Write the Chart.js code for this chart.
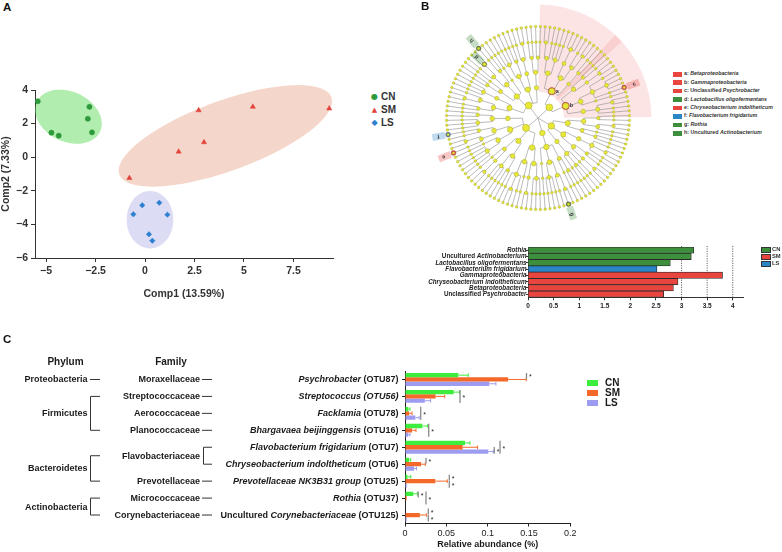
<!DOCTYPE html>
<html><head><meta charset="utf-8">
<script src="https://cdn.jsdelivr.net/npm/chart.js@4.4.1/dist/chart.umd.min.js"></script>
<style>
html,body{margin:0;padding:0;background:#fff}
body{position:relative;width:782px;height:552px;overflow:hidden;font-family:"Liberation Sans",Arial,Helvetica,sans-serif}
canvas{position:absolute}
.lbl{position:absolute;font-weight:bold;color:#1a1a1a;white-space:nowrap;line-height:1}
.sw{position:absolute}
</style></head><body>
<canvas id="pca" width="345" height="240" style="left:0px;top:60px"></canvas>
<canvas id="clado" width="240" height="240" style="left:418px;top:-2px"></canvas>
<canvas id="lda" width="360" height="85" style="left:395px;top:235px"></canvas>
<canvas id="abund" width="782" height="202" style="left:0px;top:350px"></canvas>
<script>
// ================= DATA =================
// Panel A : PCA scores
const pcaGroups = ['CN', 'SM', 'LS'];
const pcaCN = [[-5.42, 3.33], [-4.73, 1.46], [-4.36, 1.28], [-2.81, 3.00], [-2.89, 2.29], [-2.68, 1.48]];
const pcaSM = [[-0.79, -1.24], [1.70, 0.33], [2.71, 2.79], [2.98, 0.89], [5.45, 3.00], [9.31, 2.90]];
const pcaLS = [[-0.59, -3.40], [-0.14, -2.86], [0.72, -2.71], [1.13, -3.42], [0.20, -4.59], [0.37, -4.97]];
const pcaXTitle = 'Comp1 (13.59%)';
const pcaYTitle = 'Comp2 (7.33%)';
const pcaXRange = [-5.56, 9.5];
const pcaYRange = [-6, 4];
// confidence ellipses (data units): centre and two half-axis vectors
const ellipseCenter = [[-3.87, 2.41], [4.06, 1.27], [0.25, -3.72]];
const ellipseAxisU = [[1.60, -0.88], [5.36, 2.30], [1.18, 0]];
const ellipseAxisV = [[-0.53, -1.35], [0.61, -1.96], [0, 1.71]];

// Panel B : cladogram (phylum > class > order > family > genus = number of species)
const cladeTree = [
  [ [ [[2, 1], [1, 1, 1]], [[3], [1, 2]], [[1, 1]] ],
    [ [[1, 1], [2]], [[1, 3, 1], [1]], [[2, 1, 1]] ] ],
  [ [ [[1, 1], [2, 1]], [[1], [1, 1]] ],
    [ [[1, 2, 1]], [[1, 1], [2]] ],
    [ [[1], [1, 1], [1]] ] ],
  [ [ [[1, 1], [1]], [[2, 1], [1, 1, 1]], [[1]] ] ],
  [ [ [[1, 1, 1], [2]], [[1], [1, 2, 1]] ],
    [ [[1, 1], [1, 1, 1]], [[2], [1]] ],
    [ [[1, 1, 1, 1], [1]], [[1, 2], [1, 1]] ],
    [ [[1, 1, 1], [1, 1]] ] ],
  [ [ [[1, 1], [2, 1]], [[1, 1, 1]] ],
    [ [[1, 1], [1]], [[1, 2], [1, 1]], [[1]] ],
    [ [[1, 1, 1], [1, 1]], [[1, 2]] ],
    [ [[1, 1], [1, 1]] ] ]
];
const cladeMarks = ['a', 'b', 'c', 'd', 'e', 'f', 'g', 'h'];
const cladeMarkNames = ['Betaproteobacteria', 'Gammaproteobacteria', 'Unclassified Psychrobacter',
  'Lactobacillus oligofermentans', 'Chryseobacterium indoltheticum', 'Flavobacterium frigidarium',
  'Rothia', 'Uncultured Actinobacterium'];
const cladeMarkGroup = ['SM', 'SM', 'SM', 'CN', 'SM', 'LS', 'CN', 'CN'];
const cladeMarkLeaf = [0, 14, 22, 104, 81, 85, 52, 105];   // a leaf inside the clade
const cladeMarkLevel = [2, 2, 6, 5, 6, 6, 6, 6];           // tree level of the clade node

// Panel B : LDA scores
const ldaTaxa = ['Rothia', 'Uncultured Actinobacterium', 'Lactobacillus oligofermentans',
  'Flavobacterium frigidarium', 'Gammaproteobacteria', 'Chryseobacterium indoltheticum',
  'Betaproteobacteria', 'Unclassified Psychrobacter'];
const ldaGroup = ['CN', 'CN', 'CN', 'LS', 'SM', 'SM', 'SM', 'SM'];
const ldaScore = [3.24, 3.19, 2.78, 2.52, 3.80, 2.93, 2.84, 2.65];
const ldaRefLines = [3, 3.5, 4];
const ldaGroups = ['CN', 'SM', 'LS'];

// Panel C : relative abundance
const phylumNames = ['Proteobacteria', 'Firmicutes', 'Bacteroidetes', 'Actinobacteria'];
const phylumFamilyCount = [1, 3, 2, 2];
const familyNames = ['Moraxellaceae', 'Streptococcaceae', 'Aerococcaceae', 'Planococcaceae',
  'Flavobacteriaceae', 'Prevotellaceae', 'Micrococcaceae', 'Corynebacteriaceae'];
const familyOtuCount = [1, 1, 1, 1, 2, 1, 1, 1];
const otuLabels = ['Psychrobacter (OTU87)', 'Streptococcus (OTU56)', 'Facklamia (OTU78)',
  'Bhargavaea beijinggensis (OTU16)', 'Flavobacterium frigidarium (OTU7)',
  'Chryseobacterium indoltheticum (OTU6)', 'Prevotellaceae NK3B31 group (OTU25)',
  'Rothia (OTU37)', 'Uncultured Corynebacteriaceae (OTU125)'];
const abundGroups = ['CN', 'SM', 'LS'];
const cnAbund = [0.0645, 0.059, 0.004, 0.021, 0.0726, 0.005, 0.003, 0.010, 0.0];
const cnErr   = [0.012, 0.007, 0.002, 0.0064, 0.006, 0.002, 0.004, 0.005, 0.0];
const smAbund = [0.1247, 0.037, 0.005, 0.0085, 0.0698, 0.0194, 0.0367, 0.002, 0.018];
const smErr   = [0.022, 0.011, 0.0035, 0.0048, 0.018, 0.0052, 0.0145, 0.0, 0.0082];
const lsAbund = [0.102, 0.024, 0.0125, 0.004, 0.1008, 0.011, 0.002, 0.0, 0.002];
const lsErr   = [0.008, 0.007, 0.0045, 0.002, 0.006, 0.003, 0.0, 0.0, 0.0];
const sigRow  = [0, 1, 2, 3, 4, 4, 5, 6, 6, 7, 7, 8, 8];
const sigAt   = [0.147, 0.0666, 0.019, 0.0287, 0.108, 0.115, 0.0254, 0.0536, 0.0536, 0.016, 0.0254, 0.0282, 0.0282];
const sigFrom = [0, 0, 0, 0, 1, 0, 0, 0, 1, 0, 0, 0, 1];
const sigTo   = [1, 2, 2, 2, 2, 2, 1, 1, 2, 1, 2, 1, 2];
const abundXTitle = 'Relative abundance (%)';

// ================= STYLE =================
Chart.defaults.font.family = '"Liberation Sans", Arial, sans-serif';
Chart.defaults.color = '#222';
const PCA_COL = {CN: '#2e9a3b', SM: '#e2433a', LS: '#2d7fd1'};
const ELLIPSE_FILL = ['rgba(100,220,95,0.5)', 'rgba(225,150,115,0.38)', 'rgba(150,150,225,0.33)'];
const LDA_COL = {CN: '#3d8f3d', SM: '#e8453f', LS: '#2a86c6'};
const AB_COL = {CN: '#3ded3d', SM: '#f4692a', LS: '#9d9cf0'};
const ITALIC_OTU_ROWS = [1];

const body = document.body;
function label(html, x, y, size, align, extra) {
  const d = document.createElement('div');
  d.className = 'lbl';
  d.innerHTML = html;
  d.style.fontSize = size + 'px';
  d.style.top = y + 'px';
  if (align === 'right') { d.style.right = (782 - x) + 'px'; d.style.transform = 'translateY(-50%)'; }
  else if (align === 'center') { d.style.left = x + 'px'; d.style.transform = 'translate(-50%,-50%)'; }
  else { d.style.left = x + 'px'; d.style.transform = 'translateY(-50%)'; }
  if (extra) Object.assign(d.style, extra);
  body.appendChild(d);
  return d;
}
function swatch(x, y, w, h, color, border) {
  const d = document.createElement('div');
  d.className = 'sw';
  Object.assign(d.style, {left: x + 'px', top: (y - h / 2) + 'px', width: w + 'px', height: h + 'px',
    background: color, boxSizing: 'border-box', border: border || 'none'});
  body.appendChild(d);
}
function taxonHTML(name, italicOtu) {
  const m = name.match(/^(.*?)(\s*\(OTU\d+\))?$/);
  let core = m[1]; const otu = m[2] || '';
  let pre = '';
  const pm = core.match(/^(Uncultured |Unclassified )(.*)$/);
  if (pm) { pre = pm[1]; core = pm[2]; }
  return pre + '<i>' + core + '</i>' + (italicOtu ? '<i>' + otu + '</i>' : otu);
}
const plain = v => String(+Number(v).toFixed(4));
const minus = v => plain(v).replace('-', '\u2212');

// ================= PANEL A =================
const ellipsePlugin = {
  id: 'ellipses',
  beforeDatasetsDraw(chart) {
    const {ctx, scales: {x, y}} = chart;
    ellipseCenter.forEach((c, i) => {
      ctx.save();
      ctx.beginPath();
      for (let k = 0; k <= 90; k++) {
        const t = k / 90 * 2 * Math.PI;
        const dx = c[0] + ellipseAxisU[i][0] * Math.cos(t) + ellipseAxisV[i][0] * Math.sin(t);
        const dy = c[1] + ellipseAxisU[i][1] * Math.cos(t) + ellipseAxisV[i][1] * Math.sin(t);
        const px = x.getPixelForValue(dx), py = y.getPixelForValue(dy);
        if (k) ctx.lineTo(px, py); else ctx.moveTo(px, py);
      }
      ctx.closePath();
      ctx.fillStyle = ELLIPSE_FILL[i];
      ctx.fill();
      ctx.restore();
    });
  }
};
const pcaSets = [pcaCN, pcaSM, pcaLS];
const pcaStyles = ['circle', 'triangle', 'rectRot'];
const pcaRadius = [2.6, 3.0, 2.7];
new Chart(document.getElementById('pca'), {
  type: 'scatter',
  data: {datasets: pcaGroups.map((g, i) => ({
    label: g, data: pcaSets[i].map(p => ({x: p[0], y: p[1]})),
    pointStyle: pcaStyles[i], pointRadius: pcaRadius[i],
    backgroundColor: PCA_COL[g], borderColor: PCA_COL[g], borderWidth: 0.5
  }))},
  options: {
    responsive: false, animation: false,
    layout: {padding: {top: 30, right: 12, left: 0, bottom: 0}},
    plugins: {legend: {display: false}, tooltip: {enabled: false}},
    scales: {
      x: {type: 'linear', min: pcaXRange[0], max: pcaXRange[1],
        ticks: {stepSize: 2.5, includeBounds: false, font: {size: 10.5, weight: 'bold'}, color: '#333', padding: 3, callback: v => minus(v)},
        grid: {drawOnChartArea: false, tickLength: 4, color: '#333'},
        border: {color: '#333', width: 1},
        title: {display: true, text: pcaXTitle, font: {size: 10.5, weight: 'bold'}, color: '#333', padding: {top: 4, bottom: 0}},
        afterFit: s => { s.height = 42; }},
      y: {type: 'linear', min: pcaYRange[0], max: pcaYRange[1],
        ticks: {stepSize: 2, includeBounds: false, font: {size: 10.5, weight: 'bold'}, color: '#333', padding: 3, callback: v => minus(v)},
        grid: {drawOnChartArea: false, tickLength: 4, color: '#333'},
        border: {color: '#333', width: 1},
        title: {display: true, text: pcaYTitle, font: {size: 10.5, weight: 'bold'}, color: '#333', padding: {top: 0, bottom: 0}},
        afterFit: s => { s.width = 35; }}
    }
  },
  plugins: [ellipsePlugin]
});

// ================= PANEL B : cladogram =================
const CLADE_START = -87;
const LEVEL_R = [0, 0.17, 0.33, 0.5, 0.66, 0.83, 1.0];
function buildTree(arr, level) {
  const node = {level, children: []};
  arr.forEach(el => {
    if (typeof el === 'number') {
      const g = {level: level + 1, children: []};
      for (let k = 0; k < el; k++) g.children.push({level: level + 2, children: []});
      node.children.push(g);
    } else node.children.push(buildTree(el, level + 1));
  });
  return node;
}
const cladeRoot = buildTree(cladeTree, 0);
const cladeLeaves = [];
(function collect(n) { if (!n.children.length) cladeLeaves.push(n); else n.children.forEach(collect); })(cladeRoot);
const cladeStep = 360 / cladeLeaves.length;
cladeLeaves.forEach((l, i) => { l.idx = i; l.ang = CLADE_START + (i + 0.5) * cladeStep; });
(function finish(n) {
  if (n.children.length) {
    n.children.forEach(finish);
    const f = n.children[0], l = n.children[n.children.length - 1];
    n.ang = (f.ang + l.ang) / 2; n.first = f.first; n.last = l.last;
    n.count = n.children.reduce((s, c) => s + c.count, 0);
  } else { n.first = n.last = n.idx; n.count = 1; }
})(cladeRoot);
const cladeNodes = [];
(function walk(n) { if (n.level > 0) cladeNodes.push(n); n.children.forEach(walk); })(cladeRoot);
function findClade(leaf, level) {
  let n = cladeRoot;
  while (n.level < level) n = n.children.find(c => c.first <= leaf && leaf <= c.last);
  return n;
}
const markNodes = cladeMarks.map((m, i) => findClade(cladeMarkLeaf[i], cladeMarkLevel[i]));
const toXY = n => ({x: LEVEL_R[n.level] * Math.cos(n.ang * Math.PI / 180), y: -LEVEL_R[n.level] * Math.sin(n.ang * Math.PI / 180)});
const nodeSize = n => n.count === 1 ? 1.25 : 1.3 + 0.45 * Math.log2(n.count);
const CLADE_MAX = 1.263;
const cladePlugin = {
  id: 'clade',
  beforeDatasetsDraw(chart) {
    const {ctx, scales: {x, y}} = chart;
    const cx = x.getPixelForValue(0), cy = y.getPixelForValue(0);
    const ppu = x.getPixelForValue(1) - cx;
    const rad = a => a * Math.PI / 180;
    markNodes.forEach((n, i) => {
      if (n.level > 2) return;
      const a0 = rad(CLADE_START + n.first * cladeStep - 2), a1 = rad(CLADE_START + (n.last + 1) * cladeStep + 2.5);
      const r0 = LEVEL_R[n.level] * ppu - 4, r1 = 1.24 * ppu;
      ctx.save();
      ctx.beginPath();
      ctx.arc(cx, cy, r1, a0, a1);
      ctx.arc(cx, cy, r0, a1, a0, true);
      ctx.closePath();
      ctx.fillStyle = 'rgba(240,120,120,0.2)';
      ctx.fill();
      ctx.restore();
    });
    ctx.save();
    ctx.strokeStyle = '#8d8d8d';
    ctx.lineWidth = 0.6;
    (function edges(n) {
      if (!n.children.length) return;
      const r0 = LEVEL_R[n.level] * ppu;
      if (n.children.length > 1 && r0 > 0) {
        ctx.beginPath();
        ctx.arc(cx, cy, r0, rad(n.children[0].ang), rad(n.children[n.children.length - 1].ang));
        ctx.stroke();
      }
      n.children.forEach(c => {
        const a = rad(c.ang), r1 = LEVEL_R[c.level] * ppu;
        ctx.beginPath();
        ctx.moveTo(cx + r0 * Math.cos(a), cy + r0 * Math.sin(a));
        ctx.lineTo(cx + r1 * Math.cos(a), cy + r1 * Math.sin(a));
        ctx.stroke();
        edges(c);
      });
    })(cladeRoot);
    ctx.restore();
  },
  afterDatasetsDraw(chart) {
    const {ctx, scales: {x, y}} = chart;
    const cx = x.getPixelForValue(0), cy = y.getPixelForValue(0);
    const ppu = x.getPixelForValue(1) - cx;
    markNodes.forEach((n, i) => {
      const a = n.ang * Math.PI / 180;
      const r = LEVEL_R[n.level] * ppu;
      const px = cx + r * Math.cos(a), py = cy + r * Math.sin(a);
      ctx.save();
      ctx.font = 'bold 5.5px "Liberation Sans", Arial';
      ctx.textBaseline = 'middle';
      if (n.level <= 2) {
        ctx.fillStyle = '#333';
        ctx.fillText(cladeMarks[i], px + 4, py);
      } else {
        ctx.translate(px, py);
        ctx.rotate(a);
        ctx.fillStyle = LDA_COL[cladeMarkGroup[i]];
        ctx.globalAlpha = 0.3;
        ctx.fillRect(3, -3.5, 13, 7);
        ctx.globalAlpha = 1;
        ctx.fillStyle = '#333';
        ctx.fillText(cladeMarks[i], 9, 0);
      }
      ctx.restore();
    });
  }
};
new Chart(document.getElementById('clado'), {
  type: 'scatter',
  data: {datasets: [
    {label: 'nodes', data: cladeNodes.map(toXY), pointRadius: cladeNodes.map(nodeSize),
      backgroundColor: '#e8e836', borderColor: '#a9a935', borderWidth: 0.5},
    {label: 'biomarkers', data: markNodes.map(toXY),
      pointRadius: markNodes.map(n => Math.max(nodeSize(n) + 0.6, 2.4)),
      backgroundColor: cladeMarkGroup.map(g => LDA_COL[g]), borderColor: '#7a2a2a', borderWidth: 0.4}
  ]},
  options: {
    responsive: false, animation: false,
    layout: {padding: 0},
    plugins: {legend: {display: false}, tooltip: {enabled: false}},
    scales: {
      x: {type: 'linear', display: false, min: -CLADE_MAX, max: CLADE_MAX},
      y: {type: 'linear', display: false, min: -CLADE_MAX, max: CLADE_MAX}
    }
  },
  plugins: [cladePlugin]
});
cladeMarks.forEach((m, i) => {
  const yy = 74.3 + i * 8.43;
  swatch(673, yy, 8.5, 4.5, LDA_COL[cladeMarkGroup[i]]);
  label(m + ': ' + taxonHTML(cladeMarkNames[i]), 684, yy, 5.3, 'left', {color: '#333'});
});

// ================= PANEL B : LDA bars =================
const refLinePlugin = {
  id: 'reflines',
  beforeDatasetsDraw(chart) {
    const {ctx, chartArea, scales: {x}} = chart;
    ctx.save();
    ctx.strokeStyle = '#444';
    ctx.lineWidth = 0.8;
    ctx.setLineDash([1.2, 1.2]);
    ldaRefLines.forEach(v => {
      const px = x.getPixelForValue(v);
      ctx.beginPath(); ctx.moveTo(px, chartArea.top - 1); ctx.lineTo(px, chartArea.bottom); ctx.stroke();
    });
    ctx.restore();
  }
};
const ldaChart = new Chart(document.getElementById('lda'), {
  type: 'bar',
  data: {labels: ldaTaxa, datasets: [{label: 'LDA score', data: ldaScore,
    backgroundColor: ldaGroup.map(g => LDA_COL[g]), borderColor: '#2a2a2a', borderWidth: 0.8,
    categoryPercentage: 1, barPercentage: 1}]},
  options: {
    indexAxis: 'y', responsive: false, animation: false,
    layout: {padding: {left: 130, right: 12, top: 12, bottom: 0}},
    plugins: {legend: {display: false}, tooltip: {enabled: false}},
    scales: {
      x: {type: 'linear', min: 0, max: 4.2,
        ticks: {stepSize: 0.5, includeBounds: false, font: {size: 6.5, weight: 'bold'}, color: '#222', padding: 2, callback: v => plain(v)},
        grid: {drawOnChartArea: false, tickLength: 3, color: '#333'},
        border: {color: '#333', width: 1},
        afterFit: s => { s.height = 22.7; }},
      y: {ticks: {display: false}, grid: {drawOnChartArea: false, tickLength: 2, offset: false, color: '#333'},
        border: {color: '#333', width: 1}, afterFit: s => { s.width = 3; }}
    }
  },
  plugins: [refLinePlugin]
});
ldaTaxa.forEach((t, i) => {
  label(taxonHTML(t), 526.5, 235 + ldaChart.scales.y.getPixelForValue(i), 6.3, 'right', {color: '#222'});
});
ldaGroups.forEach((g, i) => {
  const yy = 250 + i * 7;
  swatch(760.5, yy, 10, 5.5, LDA_COL[g], '0.6px solid #333');
  label(g, 772, yy, 5.8, 'left', {color: '#333'});
});

// ================= PANEL C =================
const errSets = [cnErr, smErr, lsErr];
const errPlugin = {
  id: 'errbars',
  afterDatasetsDraw(chart) {
    const ctx = chart.ctx, xs = chart.scales.x;
    errSets.forEach((errs, di) => {
      const meta = chart.getDatasetMeta(di);
      const vals = chart.data.datasets[di].data;
      ctx.save();
      ctx.strokeStyle = chart.data.datasets[di].backgroundColor;
      ctx.lineWidth = 1;
      meta.data.forEach((bar, i) => {
        if (!errs[i]) return;
        const x0 = xs.getPixelForValue(vals[i]), x1 = xs.getPixelForValue(vals[i] + errs[i]);
        ctx.beginPath();
        ctx.moveTo(x0, bar.y); ctx.lineTo(x1, bar.y);
        ctx.moveTo(x1, bar.y - 1.8); ctx.lineTo(x1, bar.y + 1.8);
        ctx.stroke();
      });
      ctx.restore();
    });
  }
};
const sigPlugin = {
  id: 'sig',
  afterDatasetsDraw(chart) {
    const ctx = chart.ctx, xs = chart.scales.x;
    ctx.save();
    ctx.strokeStyle = '#8a8a8a';
    ctx.lineWidth = 1.3;
    ctx.fillStyle = '#222';
    ctx.font = '7px "Liberation Sans", Arial';
    ctx.textBaseline = 'middle';
    sigRow.forEach((r, k) => {
      const px = xs.getPixelForValue(sigAt[k]);
      const y1 = chart.getDatasetMeta(sigFrom[k]).data[r].y - (sigFrom[k] === 0 ? 2.2 : 0.3);
      const y2 = chart.getDatasetMeta(sigTo[k]).data[r].y + (sigTo[k] === 2 ? 2.2 : -0.7);
      ctx.beginPath(); ctx.moveTo(px, y1); ctx.lineTo(px, y2); ctx.stroke();
      ctx.fillText('*', px + 2.5, (y1 + y2) / 2 + 1.5);
    });
    ctx.restore();
  }
};
function taxonomyRows(ys) {
  const famY = [], famTop = [], famBot = [];
  let row = 0;
  familyOtuCount.forEach(n => {
    const a = ys.getPixelForValue(row), b = ys.getPixelForValue(row + n - 1);
    famTop.push(a); famBot.push(b); famY.push((a + b) / 2); row += n;
  });
  const phyY = [], phyTop = [], phyBot = [];
  let f = 0;
  phylumFamilyCount.forEach(n => {
    const a = famY[f], b = famY[f + n - 1];
    phyTop.push(a); phyBot.push(b); phyY.push((a + b) / 2); f += n;
  });
  return {famY, famTop, famBot, phyY, phyTop, phyBot};
}
const taxLinePlugin = {
  id: 'taxlines',
  afterDraw(chart) {
    const ctx = chart.ctx;
    const t = taxonomyRows(chart.scales.y);
    ctx.save();
    ctx.strokeStyle = '#333';
    ctx.lineWidth = 1;
    const seg = (x1, y1, x2, y2) => { ctx.beginPath(); ctx.moveTo(x1, y1); ctx.lineTo(x2, y2); ctx.stroke(); };
    familyOtuCount.forEach((n, i) => {
      if (n === 1) seg(202, t.famTop[i], 212, t.famTop[i]);
      else { seg(203.5, t.famTop[i], 212, t.famTop[i]); seg(203.5, t.famTop[i], 203.5, t.famBot[i]); seg(203.5, t.famBot[i], 212, t.famBot[i]); }
    });
    phylumFamilyCount.forEach((n, i) => {
      if (n === 1) seg(90, t.phyTop[i], 100, t.phyTop[i]);
      else { seg(90.5, t.phyTop[i], 100, t.phyTop[i]); seg(90.5, t.phyTop[i], 90.5, t.phyBot[i]); seg(90.5, t.phyBot[i], 100, t.phyBot[i]); }
    });
    ctx.restore();
  }
};
const abundSets = [cnAbund, smAbund, lsAbund];
const abChart = new Chart(document.getElementById('abund'), {
  type: 'bar',
  data: {labels: otuLabels, datasets: abundGroups.map((g, i) => ({
    label: g, data: abundSets[i], backgroundColor: AB_COL[g]
  }))},
  options: {
    indexAxis: 'y', responsive: false, animation: false,
    datasets: {bar: {categoryPercentage: 0.76, barPercentage: 1}},
    layout: {padding: {left: 401, right: 211.7, top: 21, bottom: 0}},
    plugins: {legend: {display: false}, tooltip: {enabled: false}},
    scales: {
      x: {type: 'linear', min: 0, max: 0.2,
        ticks: {stepSize: 0.05, font: {size: 9}, color: '#222', padding: 2, callback: v => plain(v)},
        grid: {drawOnChartArea: false, tickLength: 3, color: '#222'},
        border: {color: '#222', width: 1},
        title: {display: true, text: abundXTitle, font: {size: 9, weight: 'bold'}, color: '#1a1a1a', padding: {top: 1, bottom: 2}},
        afterFit: s => { s.height = 28.5; }},
      y: {ticks: {display: false}, grid: {drawOnChartArea: false, tickLength: 3, offset: false, color: '#222'},
        border: {color: '#222', width: 1}, afterFit: s => { s.width = 4; }}
    }
  },
  plugins: [errPlugin, sigPlugin, taxLinePlugin]
});
(function () {
  const ys = abChart.scales.y;
  const t = taxonomyRows(ys);
  const top = 350;
  otuLabels.forEach((o, i) => label(taxonHTML(o, ITALIC_OTU_ROWS.includes(i)), 398.5, top + ys.getPixelForValue(i), 9, 'right'));
  familyNames.forEach((f, i) => label(f, 200, top + t.famY[i], 9, 'right'));
  phylumNames.forEach((p, i) => label(p, 87.5, top + t.phyY[i], 9, 'right'));
  label('Phylum', 65.5, 362.3, 10, 'center');
  label('Family', 171, 362.3, 10, 'center');
  abundGroups.forEach((g, i) => {
    const yy = 383.3 + i * 10;
    swatch(587, yy, 11.3, 6, AB_COL[g]);
    label(g, 605, yy, 10, 'left');
  });
})();

// legend A
const pcaGlyph = ['\u25CF', '\u25B2', '\u25C6'];
pcaGroups.forEach((g, i) => {
  const yy = 96.7 + i * 13.3;
  label(pcaGlyph[i], 374.5, yy, i === 1 ? 7 : 8, 'center', {color: PCA_COL[g], fontFamily: '"DejaVu Sans", sans-serif'});
  label(g, 381, yy, 10, 'left', {color: '#333'});
});
// panel letters
label('A', 3, 8, 11.5, 'left', {color: '#111'});
label('B', 421, 6.5, 11.5, 'left', {color: '#111'});
label('C', 3, 340, 11.5, 'left', {color: '#111'});
</script>
</body></html>
